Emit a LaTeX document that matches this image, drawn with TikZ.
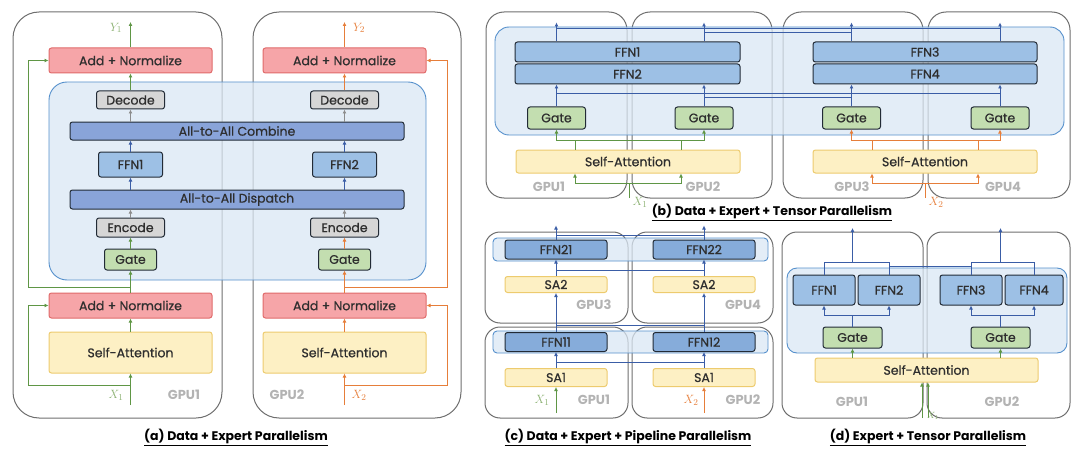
\documentclass[tikz,border=0pt]{standalone}
\usepackage{fontspec}
\setmainfont{Poppins}
\newfontfamily\boxfont{Poppins}[FakeBold=0.7]
\usetikzlibrary{arrows.meta}
\definecolor{grn}{HTML}{5F9645}
\definecolor{grnlab}{HTML}{8AB070}
\definecolor{orn}{HTML}{E67E3A}
\definecolor{blu}{HTML}{3A5DA6}
\definecolor{gry}{HTML}{8C8C8C}
\definecolor{boxline}{HTML}{6E6E6E}
\definecolor{bandfill}{HTML}{DAE7F4}
\definecolor{bandline}{HTML}{5590CC}
\definecolor{ffnfill}{HTML}{9DC0E5}
\definecolor{ffndeep}{HTML}{86ACDA}
\definecolor{alltoall}{HTML}{89A4D9}
\definecolor{gatefill}{HTML}{C3DEB0}
\definecolor{codefill}{HTML}{D6D6D6}
\definecolor{addfill}{HTML}{F6A5A8}
\definecolor{addline}{HTML}{E06A6A}
\definecolor{safill}{HTML}{FDF0C4}
\definecolor{saline}{HTML}{EDCB6E}
\definecolor{darkline}{HTML}{222B36}
\definecolor{gpulabel}{HTML}{B3B3B3}

\begin{document}
\begin{tikzpicture}[x=1pt,y=-1pt,
  gpubox/.style={draw=boxline, line width=1pt},
  band/.style={draw=bandline, line width=0.9pt, fill=bandfill, fill opacity=0.75},
  blk/.style={rounded corners=2.5pt, inner sep=0pt, line width=1pt, text=black!82, font=\boxfont\fontsize{12.5}{13}\selectfont},
  addbox/.style={blk, draw=addline, fill=addfill},
  attnbox/.style={blk, draw=saline, fill=safill},
  gatebox/.style={blk, draw=darkline, fill=gatefill},
  codebox/.style={blk, draw=darkline, fill=codefill},
  ffnbox/.style={blk, draw=darkline, fill=ffnfill},
  alltoallbox/.style={blk, draw=darkline, fill=alltoall},
  gpulab/.style={text=gpulabel, font=\bfseries\fontsize{13}{13}\selectfont},
  capt/.style={font=\bfseries\fontsize{12.5}{13}\selectfont},
  arr/.style={-{Latex[length=4pt,width=4pt]}},
  gline/.style={draw=grn, line width=1pt},
  oline/.style={draw=orn, line width=1pt},
  bline/.style={draw=blu, line width=1pt},
  cline/.style={draw=gry, line width=1pt},
]
\useasboundingbox (0,0) rectangle (1080,460);

% (a)
\draw[gpubox, rounded corners=26pt] (13,12) rectangle (222,418);
\draw[gpubox, rounded corners=26pt] (253,12) rectangle (461,418);
\draw[band, rounded corners=18pt] (49,82) rectangle (426,280);

\node[addbox, minimum width=163pt, minimum height=25pt] (addA1) at (130.5,60.5) {Add + Normalize};
\node[addbox, minimum width=163pt, minimum height=25pt] (addA2) at (344.5,60.5) {Add + Normalize};
\node[codebox, minimum width=68pt, minimum height=18pt] (decA1) at (130.5,100) {Decode};
\node[codebox, minimum width=68pt, minimum height=18pt] (decA2) at (344.5,100) {Decode};
\node[alltoallbox, minimum width=334pt, minimum height=18pt] (comb) at (237,131) {All-to-All Combine};
\node[ffnbox, minimum width=64pt, minimum height=25pt] (ffnA1) at (130.5,164.5) {FFN1};
\node[ffnbox, minimum width=64pt, minimum height=25pt] (ffnA2) at (344.5,164.5) {FFN2};
\node[alltoallbox, minimum width=334pt, minimum height=19pt] (disp) at (237,199.5) {All-to-All Dispatch};
\node[codebox, minimum width=68pt, minimum height=19pt] (encA1) at (130.5,227.5) {Encode};
\node[codebox, minimum width=68pt, minimum height=19pt] (encA2) at (344.5,227.5) {Encode};
\node[gatebox, minimum width=52pt, minimum height=21pt] (gateA1) at (130.5,259.5) {Gate};
\node[gatebox, minimum width=52pt, minimum height=21pt] (gateA2) at (344.5,259.5) {Gate};
\node[addbox, minimum width=163pt, minimum height=25pt] (addB1) at (130.5,305.5) {Add + Normalize};
\node[addbox, minimum width=163pt, minimum height=25pt] (addB2) at (344.5,305.5) {Add + Normalize};
\node[attnbox, minimum width=163pt, minimum height=41pt] (saA1) at (130.5,352.5) {Self-Attention};
\node[attnbox, minimum width=163pt, minimum height=41pt] (saA2) at (344.5,352.5) {Self-Attention};

\coordinate (xA1) at (130.5,405);
\coordinate (yA1) at (130.5,22);
\coordinate (xA2) at (344.5,405);
\coordinate (yA2) at (344.5,22);
\coordinate (resA1) at (130.5,385);
\coordinate (skipA1) at (130.5,287);
\coordinate (resA2) at (344.5,385);
\coordinate (skipA2) at (344.5,287);

\draw[gline, arr] (xA1) -- (saA1.south);
\draw[gline, arr] (saA1.north) -- (addB1.south);
\draw[gline, arr] (addB1.north) -- (gateA1.south);
\draw[gline, arr] (gateA1.north) -- (encA1.south);
\draw[cline, arr] (encA1.north) -- (encA1.north |- disp.south);
\draw[bline, arr] (ffnA1.south |- disp.north) -- (ffnA1.south);
\draw[bline, arr] (ffnA1.north) -- (ffnA1.north |- comb.south);
\draw[cline, arr] (decA1.south |- comb.north) -- (decA1.south);
\draw[gline, arr] (decA1.north) -- (addA1.south);
\draw[gline, arr] (addA1.north) -- (yA1);
\draw[gline, arr] (resA1) -- ++(-102.5,0) |- (addB1.west);
\draw[gline, arr] (skipA1) -- ++(-102.5,0) |- (addA1.west);

\draw[oline, arr] (xA2) -- (saA2.south);
\draw[oline, arr] (saA2.north) -- (addB2.south);
\draw[oline, arr] (addB2.north) -- (gateA2.south);
\draw[oline, arr] (gateA2.north) -- (encA2.south);
\draw[cline, arr] (encA2.north) -- (encA2.north |- disp.south);
\draw[bline, arr] (ffnA2.south |- disp.north) -- (ffnA2.south);
\draw[bline, arr] (ffnA2.north) -- (ffnA2.north |- comb.south);
\draw[cline, arr] (decA2.south |- comb.north) -- (decA2.south);
\draw[oline, arr] (decA2.north) -- (addA2.south);
\draw[oline, arr] (addA2.north) -- (yA2);
\draw[oline, arr] (resA2) -- ++(102.5,0) |- (addB2.east);
\draw[oline, arr] (skipA2) -- ++(102.5,0) |- (addA2.east);

\node[text=grnlab, font=\fontsize{13}{13}\selectfont] (lxA1) at (116,395) {$X_1$};
\node[text=grnlab, font=\fontsize{13}{13}\selectfont] (lyA1) at (116,28) {$Y_1$};
\node[text=orn, font=\fontsize{13}{13}\selectfont] (lxA2) at (359,395) {$X_2$};
\node[text=orn, font=\fontsize{13}{13}\selectfont] (lyA2) at (359,28) {$Y_2$};
\node[gpulab] (gA1) at (184,395) {GPU1};
\node[gpulab] (gA2) at (287,395) {GPU2};
\node[capt] (capA) at (236,437) {\underline{(a) Data + Expert Parallelism}};

% (b)
\draw[gpubox, rounded corners=18pt] (486,12) rectangle (627,198);
\draw[gpubox, rounded corners=18pt] (632,12) rectangle (772,198);
\draw[gpubox, rounded corners=18pt] (783,12) rectangle (923,198);
\draw[gpubox, rounded corners=18pt] (928,12) rectangle (1070,198);
\draw[band, rounded corners=14pt] (495,27) rectangle (1064,135);

\node[ffnbox, minimum width=225pt, minimum height=20pt] (ffnB1) at (627.5,52) {FFN1};
\node[ffnbox, minimum width=225pt, minimum height=20pt] (ffnB2) at (627.5,74) {FFN2};
\node[ffnbox, minimum width=224pt, minimum height=20pt] (ffnB3) at (925,52) {FFN3};
\node[ffnbox, minimum width=224pt, minimum height=20pt] (ffnB4) at (925,74) {FFN4};
\node[gatebox, minimum width=58pt, minimum height=22pt] (gateB1) at (556.5,118) {Gate};
\node[gatebox, minimum width=58pt, minimum height=22pt] (gateB2) at (704,118) {Gate};
\node[gatebox, minimum width=58pt, minimum height=22pt] (gateB3) at (851.5,118) {Gate};
\node[gatebox, minimum width=58pt, minimum height=22pt] (gateB4) at (1000,118) {Gate};
\node[attnbox, minimum width=224pt, minimum height=23pt] (saB1) at (628,161.5) {Self-Attention};
\node[attnbox, minimum width=224pt, minimum height=23pt] (saB2) at (925,161.5) {Self-Attention};

\coordinate (xB1) at (629.5,198);
\coordinate (inB1) at (629.5,183);
\coordinate (outB1) at (630,140);
\coordinate (xB2) at (925.5,198);
\coordinate (inB2) at (925.5,183);
\coordinate (outB2) at (926,140);

\draw[gline] (xB1) -- (inB1);
\draw[gline, arr] (inB1) -| ([xshift=-53pt]saB1.south);
\draw[gline, arr] (inB1) -| ([xshift=53pt]saB1.south);
\draw[gline] ([xshift=-53pt]saB1.north) -- ++(0,-10);
\draw[gline] ([xshift=53pt]saB1.north) -- ++(0,-10);
\draw[gline, arr] (outB1) -| (gateB1.south);
\draw[gline, arr] (outB1) -| (gateB2.south);

\draw[oline] (xB2) -- (inB2);
\draw[oline, arr] (inB2) -| ([xshift=-53pt]saB2.south);
\draw[oline, arr] (inB2) -| ([xshift=53pt]saB2.south);
\draw[oline] ([xshift=-53pt]saB2.north) -- ++(0,-10);
\draw[oline] ([xshift=53pt]saB2.north) -- ++(0,-10);
\draw[oline, arr] (outB2) -| (gateB3.south);
\draw[oline, arr] (outB2) -| (gateB4.south);

\draw[bline, arr] (gateB1.north) -- (gateB1.north |- ffnB2.south);
\draw[bline, arr] (gateB2.north) -- (gateB2.north |- ffnB2.south);
\draw[bline, arr] (gateB3.north) -- (gateB3.north |- ffnB4.south);
\draw[bline, arr] (gateB4.north) -- (gateB4.north |- ffnB4.south);
\draw[bline] (gateB1.north |- 0,94) -- (gateB4.north |- 0,94);
\draw[bline] (gateB2.north |- 0,98) -- (gateB3.north |- 0,98);
\draw[bline, arr] (ffnB1.north -| gateB1.north) -- ++(0,-19);
\draw[bline, arr] (ffnB1.north -| gateB2.north) -- ++(0,-19);
\draw[bline, arr] (ffnB3.north -| gateB3.north) -- ++(0,-19);
\draw[bline, arr] (ffnB3.north -| gateB4.north) -- ++(0,-19);
\draw[bline] (gateB1.north |- 0,29) -- (gateB4.north |- 0,29);
\draw[bline] (gateB2.north |- 0,33) -- (gateB3.north |- 0,33);

\node[text=grnlab, font=\fontsize{13}{13}\selectfont] (lxB1) at (640,202) {$X_1$};
\node[text=orn, font=\fontsize{13}{13}\selectfont] (lxB2) at (936,202) {$X_2$};
\node[gpulab] (gB1) at (549,187) {GPU1};
\node[gpulab] (gB2) at (703,187) {GPU2};
\node[gpulab] (gB3) at (852,187) {GPU3};
\node[gpulab] (gB4) at (1003,187) {GPU4};
\node[capt] (capB) at (772,212) {\underline{(b) Data + Expert + Tensor Parallelism}};

% (c)
\draw[gpubox, rounded corners=15pt] (485,232) rectangle (628,323);
\draw[gpubox, rounded corners=15pt] (632,232) rectangle (773,323);
\draw[gpubox, rounded corners=15pt] (485,327) rectangle (628,418);
\draw[gpubox, rounded corners=15pt] (632,327) rectangle (773,418);
\draw[band, rounded corners=4pt] (493,238) rectangle (768,261);
\draw[band, rounded corners=4pt] (493,331) rectangle (768,353);

\node[ffnbox, fill=ffndeep, minimum width=102pt, minimum height=19pt] (ffnC21) at (556,249.5) {FFN21};
\node[ffnbox, fill=ffndeep, minimum width=102pt, minimum height=19pt] (ffnC22) at (704,249.5) {FFN22};
\node[ffnbox, fill=ffndeep, minimum width=102pt, minimum height=19pt] (ffnC11) at (556,342) {FFN11};
\node[ffnbox, fill=ffndeep, minimum width=102pt, minimum height=19pt] (ffnC12) at (704,342) {FFN12};
\node[attnbox, minimum width=102pt, minimum height=16pt] (saC21) at (556,284.5) {SA2};
\node[attnbox, minimum width=102pt, minimum height=16pt] (saC22) at (704,284.5) {SA2};
\node[attnbox, minimum width=102pt, minimum height=18pt] (saC11) at (556,377.5) {SA1};
\node[attnbox, minimum width=102pt, minimum height=18pt] (saC12) at (704,377.5) {SA1};

\coordinate (xC1) at (556,413);
\coordinate (xC2) at (704,413);
\draw[gline, arr] (xC1) -- (saC11.south);
\draw[oline, arr] (xC2) -- (saC12.south);
\draw[bline, arr] (saC11.north) -- (ffnC11.south);
\draw[bline, arr] (saC12.north) -- (ffnC12.south);
\draw[bline] (saC11.north |- 0,362) -- (saC12.north |- 0,362);
\draw[bline, arr] (ffnC11.north) -- (saC21.south);
\draw[bline, arr] (ffnC12.north) -- (saC22.south);
\draw[bline] (ffnC11.north |- 0,325) -- (ffnC12.north |- 0,325);
\draw[bline, arr] (saC21.north) -- (ffnC21.south);
\draw[bline, arr] (saC22.north) -- (ffnC22.south);
\draw[bline] (saC21.north |- 0,270) -- (saC22.north |- 0,270);
\draw[bline, arr] (ffnC21.north) -- ++(0,-14);
\draw[bline, arr] (ffnC22.north) -- ++(0,-14);
\draw[bline] (ffnC21.north |- 0,235) -- (ffnC22.north |- 0,235);

\node[text=grnlab, font=\fontsize{13}{13}\selectfont] (lxC1) at (542,400) {$X_1$};
\node[text=orn, font=\fontsize{13}{13}\selectfont] (lxC2) at (691,400) {$X_2$};
\node[gpulab] (gC1) at (594,400) {GPU1};
\node[gpulab] (gC2) at (743,400) {GPU2};
\node[gpulab] (gC3) at (594,305) {GPU3};
\node[gpulab] (gC4) at (743,305) {GPU4};
\node[capt] (capC) at (628,437) {\underline{(c) Data + Expert + Pipeline Parallelism}};

% (d)
\draw[gpubox, rounded corners=15pt] (782,232) rectangle (923,418);
\draw[gpubox, rounded corners=15pt] (927,232) rectangle (1070,418);
\draw[band, rounded corners=10pt] (787,268) rectangle (1067,353);

\node[ffnbox, minimum width=62pt, minimum height=30pt] (ffnD1) at (824,290) {FFN1};
\node[ffnbox, minimum width=62pt, minimum height=30pt] (ffnD2) at (889,290) {FFN2};
\node[ffnbox, minimum width=62pt, minimum height=30pt] (ffnD3) at (971,290) {FFN3};
\node[ffnbox, minimum width=58pt, minimum height=30pt] (ffnD4) at (1034,290) {FFN4};
\node[gatebox, minimum width=59pt, minimum height=21pt] (gateD1) at (852.5,337.5) {Gate};
\node[gatebox, minimum width=59pt, minimum height=21pt] (gateD2) at (1000.5,337.5) {Gate};
\node[attnbox, minimum width=223pt, minimum height=24pt] (saD) at (926.5,370) {Self-Attention};

\coordinate (xD) at (925,418);
\draw[gline, arr] ([xshift=-3pt]xD) -- ([xshift=-4.5pt]saD.south);
\draw[gline, arr] ([xshift=3pt]xD) -- ([xshift=1.5pt]saD.south);
\draw[gline, arr] (saD.north -| gateD1.south) -- (gateD1.south);
\draw[gline, arr] (saD.north -| gateD2.south) -- (gateD2.south);
\draw[bline] (gateD1.north) -- ++(0,-12);
\draw[bline, arr] (gateD1.north |- 0,315) -| (ffnD1.south);
\draw[bline, arr] (gateD1.north |- 0,315) -| (ffnD2.south);
\draw[bline] (gateD2.north) -- ++(0,-12);
\draw[bline, arr] (gateD2.north |- 0,315) -| (ffnD3.south);
\draw[bline, arr] (gateD2.north |- 0,315) -| (ffnD4.south);
\draw[bline] (ffnD1.north) |- (ffnD2.north |- 0,262) -- (ffnD2.north);
\draw[bline] (ffnD3.north) |- (ffnD4.north |- 0,262) -- (ffnD4.north);
\draw[bline] (ffnD2.north |- 0,266) -- (ffnD3.north |- 0,266);
\draw[bline, arr, line width=1.4pt] (gateD1.north |- 0,262) -- ++(0,-34);
\draw[bline, arr, line width=1.4pt] (gateD2.north |- 0,262) -- ++(0,-34);

\node[text=grnlab, font=\fontsize{9}{9}\selectfont] (lxD) at (933,416) {$X_1$};
\node[gpulab] (gD1) at (852,402) {GPU1};
\node[gpulab] (gD2) at (1002,402) {GPU2};
\node[capt] (capD) at (928,437) {\underline{(d) Expert + Tensor Parallelism}};
\end{tikzpicture}
\end{document}
